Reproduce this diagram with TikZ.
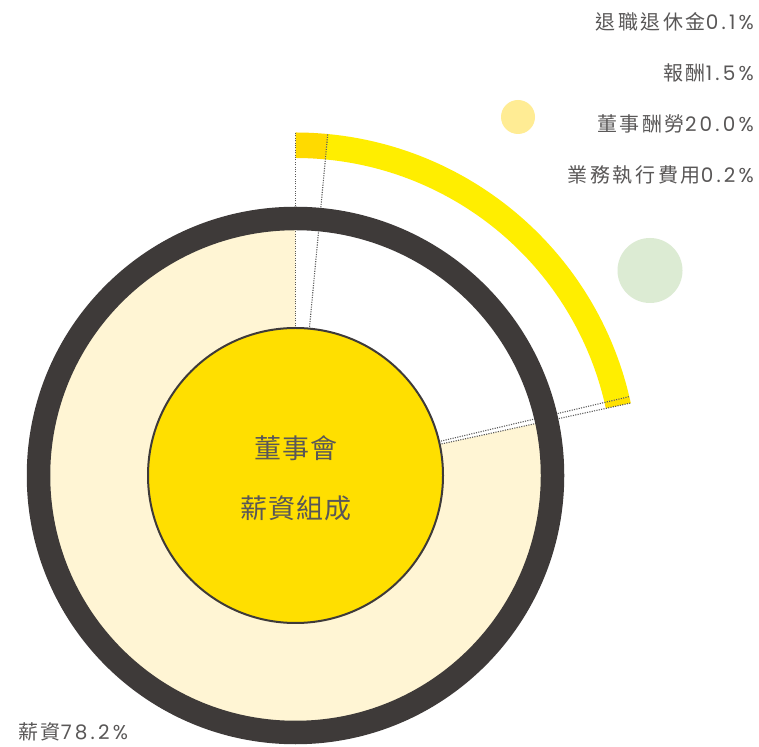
\documentclass[tikz,border=0pt]{standalone}
\usepackage{fontspec}
\setmainfont{Noto Sans CJK TC}
\newfontfamily\lblfont{Noto Sans CJK TC}[LetterSpace=13]
\newfontfamily\corefont{Noto Sans CJK TC}[LetterSpace=4]
\newfontfamily\latfont{Poppins}[LetterSpace=16]
\definecolor{ringdark}{HTML}{3E3A39}
\definecolor{lightfill}{HTML}{FFF5D4}
\definecolor{coreyellow}{HTML}{FFDF00}
\definecolor{arcyellow}{HTML}{FFEE00}
\definecolor{arcgold}{HTML}{FFDA00}
\definecolor{arcend}{HTML}{FFE100}
\definecolor{paleyellow}{HTML}{FFEC94}
\definecolor{palegreen}{HTML}{DCEBD3}
\definecolor{txtgray}{HTML}{595757}
\newcommand\annsector[3]{%
  \fill[#1] ([shift={(#2:343)}]C) arc[start angle=#2, end angle=#3, radius=343]
    -- ([shift={(#3:317.5)}]C) arc[start angle=#3, end angle=#2, radius=317.5] -- cycle;}
\tikzset{
  lbl/.style={anchor=east, inner sep=0pt, text=txtgray, font=\lblfont\fontsize{20}{20}\selectfont},
  core/.style={text=txtgray, inner sep=0pt, font=\corefont\fontsize{27}{27}\selectfont},
  guide/.style={draw=black!65, line width=1.1pt, dash pattern=on 1.1pt off 1.3pt},
  bubble/.style={circle, inner sep=0pt, draw=none}
}
\begin{document}
\begin{tikzpicture}[x=1pt,y=1pt]
\useasboundingbox (0,0) rectangle (759,746);
\fill[white] (0,0) rectangle (759,746);
\coordinate (C) at (295.5,270.5);
% light pie (78.2%)
\fill[lightfill] (C) -- ([shift={(90:246)}]C) arc[start angle=90, end angle=372.2, radius=246] -- cycle;
% outer arc (21.8% breakdown)
\annsector{arcyellow}{13.3}{84.6}
\annsector{arcgold}{84.6}{90}
\annsector{arcend}{12.2}{13.3}
% guide lines
\foreach \a/\n in {90/g1, 84.6/g2, 13.3/g3, 12.2/g4}{
  \coordinate (\n i) at ([shift={(\a:147)}]C);
  \coordinate (\n o) at ([shift={(\a:343)}]C);
  \draw[guide] (\n i) -- (\n o);
}
% dark ring
\draw[ringdark, line width=23.5pt] (C) circle[radius=257];
% core circle
\node[circle, fill=coreyellow, draw=ringdark, line width=2pt, minimum size=295pt, inner sep=0pt] (core) at (C) {};
\node[core] (t1) at (296,298) {董事會};
\node[core] (t2) at (296,238) {薪資組成};
% bubbles
\node[bubble, fill=paleyellow, minimum size=34pt] (b1) at (518,629) {};
\node[bubble, fill=palegreen, minimum size=65pt] (b2) at (650,475.5) {};
% labels
\node[lbl] (l1) at (754,724) {退職退休金{\latfont 0.1\%}};
\node[lbl] (l2) at (754,673) {報酬{\latfont 1.5\%}};
\node[lbl] (l3) at (754,622) {董事酬勞{\latfont 20.0\%}};
\node[lbl] (l4) at (754,571) {業務執行費用{\latfont 0.2\%}};
\node[lbl, anchor=west] (l5) at (18,14) {薪資{\latfont 78.2\%}};
\end{tikzpicture}
\end{document}
